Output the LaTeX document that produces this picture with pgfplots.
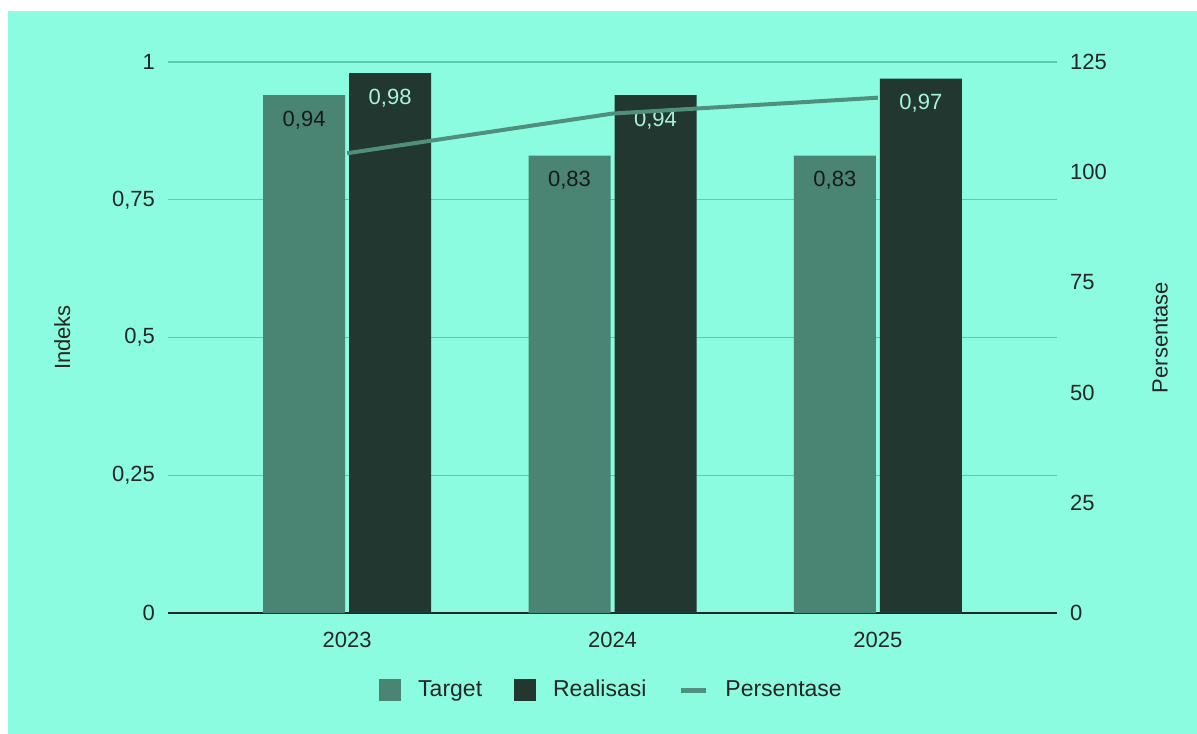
\documentclass[border=0pt]{standalone}
\usepackage{fontspec}
\setmainfont{Liberation Sans}
\usepackage{pgfplots}
\pgfplotsset{compat=1.18}
\definecolor{bg}{HTML}{8CFCE0}
\definecolor{grd}{HTML}{5CCBAA}
\definecolor{tgt}{HTML}{4A8573}
\definecolor{rea}{HTML}{21372F}
\definecolor{lin}{HTML}{4F8F7C}
\definecolor{lbl}{HTML}{A8F5DE}
\begin{document}
\begin{tikzpicture}[x=1pt,y=1pt]
\useasboundingbox (0,0) rectangle (598.5,366.5);
\fill[white] (-5,-5) rectangle (605,372);
\fill[bg] (4,-5) rectangle (605,361);
\begin{axis}[
  at={(84pt,60pt)}, anchor=south west, scale only axis,
  width=444.5pt, height=275.5pt,
  xmin=-0.675, xmax=2.675, ymin=0, ymax=1,
  ytick={0,0.25,0.5,0.75,1},
  xtick={0,1,2}, xticklabels={2023,2024,2025},
  ymajorgrids, grid style={grd, line width=0.6pt},
  axis x line*=bottom, axis y line*=left,
  y axis line style={draw=none},
  x axis line style={-, draw=black!85, line width=0.7pt},
  major tick length=0pt,
  /pgf/number format/use comma,
  /pgf/number format/assume math mode=true,
  tick label style={font=\fontsize{11}{13}\selectfont, text=black!85},
  xticklabel style={yshift=-6pt},
  yticklabel style={xshift=-3pt},
  ylabel={Indeks},
  ylabel style={at={(axis description cs:-0.119,0.5)}, anchor=center, font=\fontsize{11}{13}\selectfont, text=black!85},
  ybar=2pt, bar width=41pt,
  legend columns=3,
  legend style={draw=none, fill=none, at={(0.5,-0.14)}, anchor=center,
    font=\fontsize{11.5}{13}\selectfont, text=black!85,
    /tikz/every odd column/.append style={column sep=6.5pt},
    /tikz/every even column/.append style={column sep=14pt}},
]
\addplot[fill=tgt, draw=none,
  legend image code/.code={\fill[tgt] (0pt,-5.5pt) rectangle (11pt,5.5pt);},
  nodes near coords={\pgfmathprintnumber[fixed,fixed zerofill,precision=2,use comma]{\pgfplotspointmeta}},
  every node near coord/.append style={anchor=center, yshift=-12.5pt, text=black!90, font=\fontsize{11}{13}\selectfont}]
  coordinates {(0,0.94) (1,0.83) (2,0.83)};
\addlegendentry{Target}
\addplot[fill=rea, draw=none,
  legend image code/.code={\fill[rea] (0pt,-5.5pt) rectangle (11pt,5.5pt);},
  nodes near coords={\pgfmathprintnumber[fixed,fixed zerofill,precision=2,use comma]{\pgfplotspointmeta}},
  every node near coord/.append style={anchor=center, yshift=-12.5pt, text=lbl, font=\fontsize{11}{13}\selectfont}]
  coordinates {(0,0.98) (1,0.94) (2,0.97)};
\addlegendentry{Realisasi}
\addlegendimage{legend image code/.code={\draw[lin, line width=2.5pt] (0pt,0pt) -- (12.5pt,0pt);}}
\addlegendentry{Persentase}
\end{axis}
\begin{axis}[
  at={(84pt,60pt)}, anchor=south west, scale only axis,
  width=444.5pt, height=275.5pt,
  xmin=-0.675, xmax=2.675, ymin=0, ymax=125,
  ytick={0,25,50,75,100,125},
  axis y line*=right, axis x line=none,
  y axis line style={draw=none},
  major tick length=0pt,
  /pgf/number format/assume math mode=true,
  tick label style={font=\fontsize{11}{13}\selectfont, text=black!85},
  yticklabel style={xshift=3pt},
  ylabel={Persentase},
  ylabel style={at={(axis description cs:1.116,0.5)}, anchor=center, rotate=0, font=\fontsize{11}{13}\selectfont, text=black!85},
]
\addplot[lin, line width=2pt] coordinates {(0,104.3) (1,113.3) (2,116.9)};
\end{axis}
\end{tikzpicture}
\end{document}
